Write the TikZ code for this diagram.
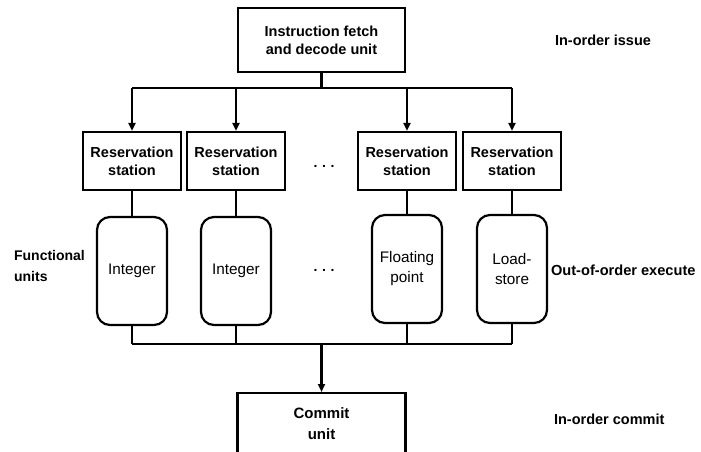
\documentclass[tikz,border=0pt]{standalone}
\usepackage{fontspec}
\setmainfont{Liberation Sans}
\usetikzlibrary{arrows.meta}
\begin{document}
\begin{tikzpicture}[x=1pt,y=-1pt,
  line width=2.2pt,
  sqbox/.style={draw,rectangle,inner sep=0pt,align=center,font=\bfseries\fontsize{14.5}{18}\selectfont},
  fubox/.style={draw,rectangle,rounded corners=13pt,minimum width=70pt,minimum height=108pt,inner sep=0pt,align=center,font=\fontsize{15.3}{20}\selectfont},
  lab/.style={font=\bfseries\fontsize{14.5}{20}\selectfont,align=left,inner sep=0pt},
  dotsty/.style={font=\bfseries\fontsize{14}{14}\selectfont,inner sep=0pt},
  arr/.style={-{Triangle[length=8pt,width=7pt]}},
  conn/.style={line width=2.2pt}]
\useasboundingbox (0,0) rectangle (701,452);
% top unit
\node[sqbox,minimum width=167pt,minimum height=64pt] (ifu) at (321.5,40) {Instruction fetch\\and decode unit};
% reservation stations
\node[sqbox,minimum width=98pt,minimum height=58pt] (rs1) at (132,161) {Reservation\\station};
\node[sqbox,minimum width=98pt,minimum height=58pt] (rs2) at (236,161) {Reservation\\station};
\node[sqbox,minimum width=98pt,minimum height=58pt] (rs3) at (407,161) {Reservation\\station};
\node[sqbox,minimum width=98pt,minimum height=58pt] (rs4) at (512,161) {Reservation\\station};
\node[dotsty] (dots1) at (324,166) {.\,\,.\,\,.};
% functional units
\node[fubox] (fu1) at (132,271) {Integer};
\node[fubox] (fu2) at (236,271) {Integer};
\node[fubox] (fu3) at (407,269) {Floating\\point};
\node[fubox] (fu4) at (512,269) {Load-\\store};
\node[dotsty] (dots2) at (324,270) {.\,\,.\,\,.};
% commit unit
\node[sqbox,minimum width=168pt,minimum height=80pt,anchor=north] (cu) at (321.5,392) {};
\node[font=\bfseries\fontsize{15}{21}\selectfont,align=center] (cut) at (321.5,424) {Commit\\unit};
% labels
\node[lab,anchor=west] (l1) at (554,40) {In-order issue};
\node[lab,anchor=west,font=\bfseries\fontsize{14.6}{20}\selectfont] (l2) at (550,270) {Out-of-order execute};
\node[lab,anchor=west] (l3) at (553,419) {In-order commit};
\node[lab,anchor=west,font=\bfseries\fontsize{14}{21}\selectfont] (l4) at (13,266) {Functional\\units};
% connectors
\coordinate (top) at (321.5,88);
\coordinate (bot) at (321.5,344);
\draw[conn] (ifu.south) -- (top);
\draw[conn] (rs1.north |- top) -- (rs4.north |- top);
\draw[arr] (rs1.north |- top) -- (rs1.north);
\draw[arr] (rs2.north |- top) -- (rs2.north);
\draw[arr] (rs3.north |- top) -- (rs3.north);
\draw[arr] (rs4.north |- top) -- (rs4.north);
\draw[conn] (rs1.south) -- (fu1.north);
\draw[conn] (rs2.south) -- (fu2.north);
\draw[conn] (rs3.south) -- (fu3.north);
\draw[conn] (rs4.south) -- (fu4.north);
\draw[conn] (fu1.south) -- (fu1.south |- bot);
\draw[conn] (fu2.south) -- (fu2.south |- bot);
\draw[conn] (fu3.south) -- (fu3.south |- bot);
\draw[conn] (fu4.south) -- (fu4.south |- bot);
\draw[conn] (fu1.south |- bot) -- (fu4.south |- bot);
\draw[arr] (bot) -- (cu.north);
\end{tikzpicture}
\end{document}
